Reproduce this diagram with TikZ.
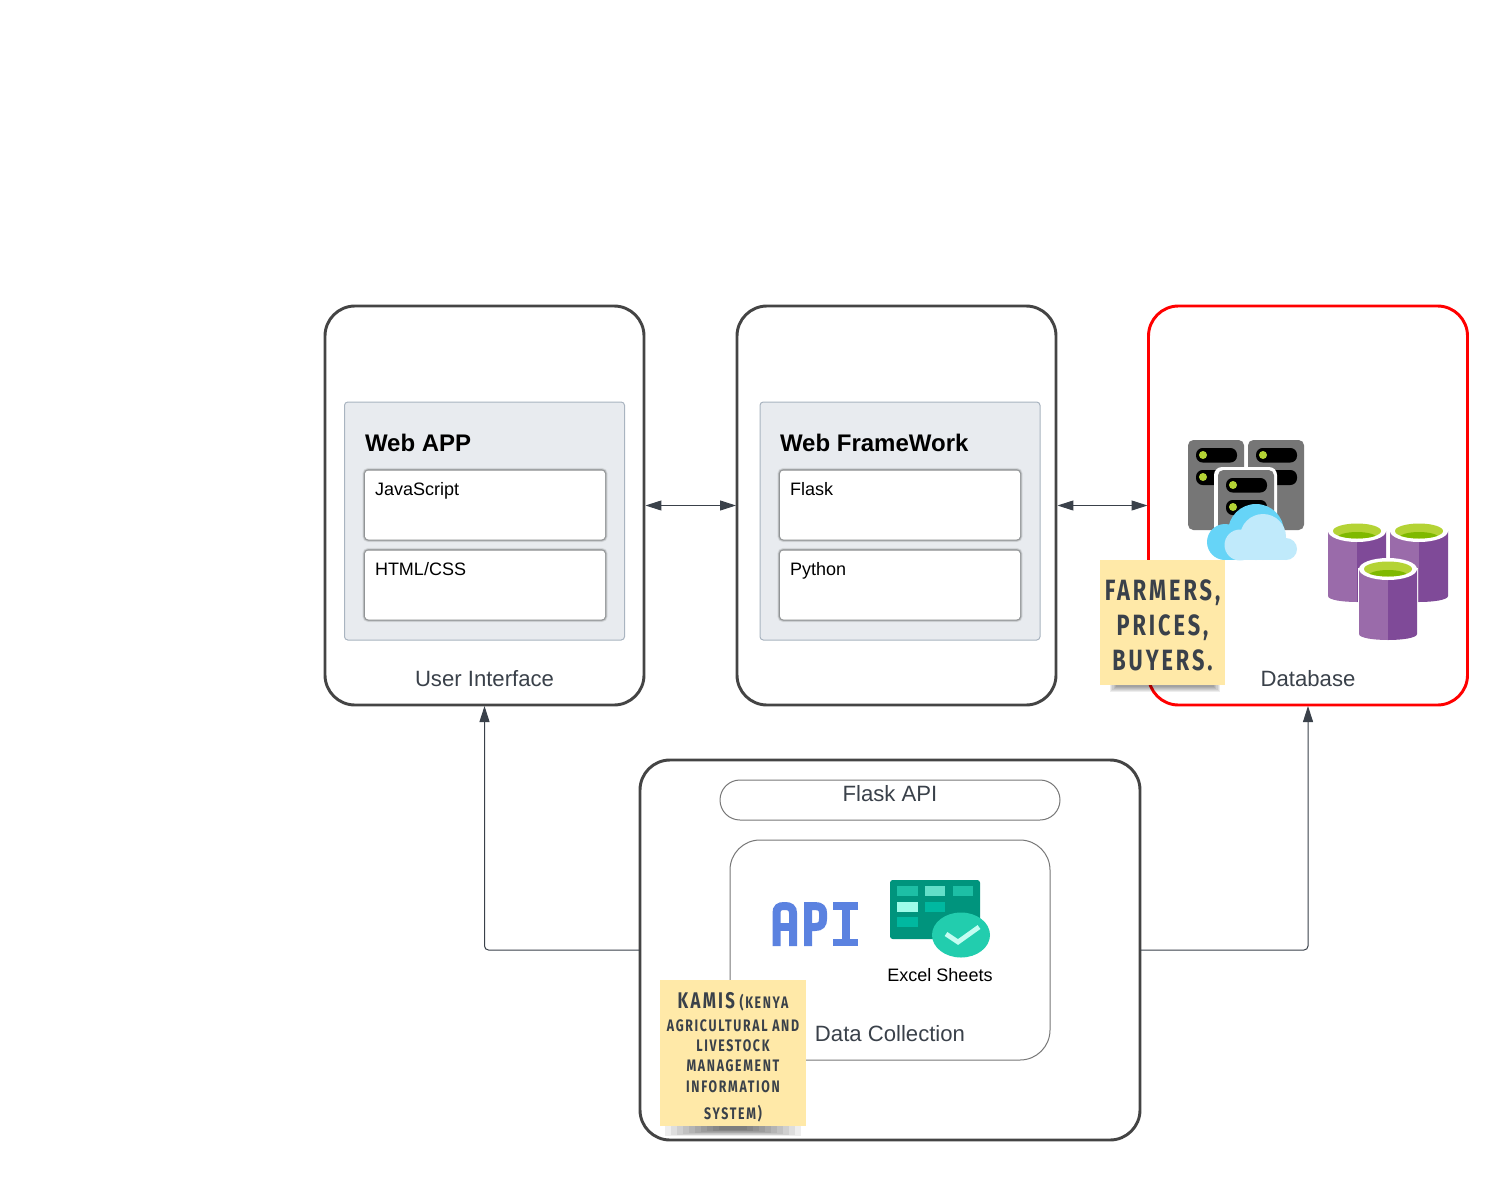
\documentclass[tikz,border=0pt]{standalone}
\usepackage{fontspec}
\setmainfont{Liberation Sans}
\newfontfamily\handfont[FakeStretch=0.74,LetterSpace=10]{Fira Sans}
\usetikzlibrary{arrows.meta}
\definecolor{ink}{HTML}{3A414A}
\definecolor{frame}{HTML}{444444}
\definecolor{thin}{HTML}{777777}
\definecolor{panelfill}{HTML}{E8EBEF}
\definecolor{panelline}{HTML}{A9B4C0}
\definecolor{sticky}{HTML}{FFE9A8}
\definecolor{srvgrey}{HTML}{767676}
\definecolor{led}{HTML}{B4D335}
\definecolor{cloudA}{HTML}{66D4F7}
\definecolor{cloudB}{HTML}{C0EAFB}
\definecolor{cylA}{HTML}{9A6BAA}
\definecolor{cylB}{HTML}{7F4A98}
\definecolor{well}{HTML}{7FB900}
\definecolor{xlA}{HTML}{00947D}
\definecolor{xlB}{HTML}{1DBFA5}
\definecolor{xlC}{HTML}{63DFC9}
\definecolor{xlD}{HTML}{9EFCE9}
\definecolor{xlE}{HTML}{00B8A0}
\definecolor{xlF}{HTML}{22CDAE}
\definecolor{apiblue}{HTML}{5B82E0}
\newcommand\pxl[1]{#1*0.75pt}
\newcommand\srvrack[3]{% x, y, height
  \fill[srvgrey,rounded corners=4pt] (#1,#2) rectangle ++(56,#3);
  \fill[black,rounded corners=5pt] (#1+8,#2+8) rectangle ++(41,14.5);
  \fill[black,rounded corners=5pt] (#1+8,#2+30) rectangle ++(41,15);
  \fill[led] (#1+15,#2+15) circle[radius=4];
  \fill[led] (#1+15,#2+37) circle[radius=4];
}
\newcommand\dbcyl[3]{% cx, top y, bottom y
  \fill[white] (#1-30,#2-1) rectangle (#1+30,#3-6);
  \fill[white] (#1-30,#3-6) .. controls (#1-30,#3) and (#1-14,#3+1) .. (#1,#3+1) .. controls (#1+14,#3+1) and (#1+30,#3) .. (#1+30,#3-6) -- cycle;
  \fill[cylA] (#1-29,#2) -- (#1-29,#3-6) .. controls (#1-29,#3-2) and (#1-14,#3) .. (#1,#3) -- (#1,#2) -- cycle;
  \fill[cylB] (#1+29,#2) -- (#1+29,#3-6) .. controls (#1+29,#3-2) and (#1+14,#3) .. (#1,#3) -- (#1,#2) -- cycle;
  \fill[white] (#1,#2) ellipse[x radius=29,y radius=11];
  \fill[led] (#1,#2) ellipse[x radius=24,y radius=7.5];
  \begin{scope}
    \clip (#1,#2) ellipse[x radius=24,y radius=7.5];
    \fill[well] (#1,#2+7) ellipse[x radius=20,y radius=6];
  \end{scope}
}
\tikzset{
  bigbox/.style={draw=frame,line width=2.2pt,fill=white,rounded corners=22.5pt,inner sep=0pt,outer sep=0pt,minimum width=\pxl{319},minimum height=\pxl{399}},
  subbox/.style={draw=thin,line width=0.75pt,fill=white,inner sep=0pt,outer sep=0pt},
  panelbox/.style={draw=panelline,line width=0.75pt,fill=panelfill,rounded corners=2.5pt,inner sep=0pt,outer sep=0pt,minimum width=\pxl{280},minimum height=\pxl{238}},
  cardbox/.style={fill=white,rounded corners=2.5pt,inner sep=0pt,outer sep=0pt,minimum height=\pxl{69},
    preaction={draw=black,opacity=.06,line width=4pt},
    preaction={draw=black,opacity=.10,line width=3pt},
    preaction={draw=black,opacity=.16,line width=2pt},
    preaction={draw=black,opacity=.16,line width=1pt}},
  cardtext/.style={anchor=base west,inner sep=0pt,outer sep=0pt,text=black,font=\fontsize{13.5}{16}\selectfont},
  paneltitle/.style={anchor=base west,inner sep=0pt,outer sep=0pt,text=black,font=\fontsize{18}{20}\selectfont\bfseries},
  boxlabel/.style={inner sep=0pt,outer sep=0pt,text=ink,font=\fontsize{16.6}{20}\selectfont},
  notebox/.style={fill=sticky,inner sep=0pt,outer sep=0pt},
  notetext/.style={inner sep=0pt,outer sep=0pt,text=ink,align=center},
  link/.style={draw=ink,line width=0.75pt,rounded corners=3pt,shorten >=0.75pt,arrows={-Triangle[length=12pt,width=7.5pt]}},
  duplex/.style={draw=ink,line width=0.75pt,shorten <=1.1pt,shorten >=0.75pt,arrows={Triangle[length=12pt,width=7.5pt]-Triangle[length=12pt,width=7.5pt]}},
}
\begin{document}
\begin{tikzpicture}[x=0.75pt,y=-0.75pt]
\useasboundingbox (0,0) rectangle (1509,1184);
\fill[white] (0,0) rectangle (1509,1184);

% main containers
\node[bigbox] (ui) at (484.5,505.5) {};
\node[bigbox] (wf) at (896.5,505.5) {};
\node[bigbox,draw=red] (db) at (1308,505.5) {};
\node[bigbox,minimum width=\pxl{500},minimum height=\pxl{380}] (coll) at (890,950) {};

% web app
\node[panelbox] (appPanel) at (484.5,521) {};
\node[paneltitle] (appTitle) at (365,451) {Web APP};
\node[cardbox,minimum width=\pxl{240}] (jsCard) at (485,505) {};
\node[cardbox,minimum width=\pxl{240}] (htmlCard) at (485,585) {};
\node[cardtext] (jsText) at (375,495) {JavaScript};
\node[cardtext] (htmlText) at (375,575) {HTML/CSS};
\node[boxlabel] (uiLabel) at (484.5,679) {User Interface};

% web framework
\node[panelbox] (fwPanel) at (900,521) {};
\node[paneltitle] (fwTitle) at (780,451) {Web FrameWork};
\node[cardbox,minimum width=\pxl{240}] (flaskCard) at (900,505) {};
\node[cardbox,minimum width=\pxl{240}] (pyCard) at (900,585) {};
\node[cardtext] (flaskText) at (790,495) {Flask};
\node[cardtext] (pyText) at (790,575) {Python};

% database label
\node[boxlabel] (dbLabel) at (1308,679) {Database};

% servers
\srvrack{1188}{440}{90}
\srvrack{1248}{440}{90}
\fill[white,rounded corners=6pt] (1214,467) rectangle (1277,540);
\srvrack{1218}{470}{70}
% cloud
\fill[cloudA] (1256,532) circle[radius=28];
\fill[cloudA] (1225,542) circle[radius=18];
\fill[cloudA] (1225,545) rectangle (1270,560);
\fill[cloudB] (1263,537) circle[radius=23];
\fill[cloudB] (1240,545) circle[radius=15.5];
\fill[cloudB] (1286,549) circle[radius=11];
\fill[cloudB] (1240,540) rectangle (1286,560);

% cylinders
\dbcyl{1357}{531}{602}
\dbcyl{1419}{531}{602}
\dbcyl{1388}{569}{640}

% collection internals
\node[subbox,rounded corners=15pt,minimum width=\pxl{340},minimum height=\pxl{40}] (pill) at (890,800) {};
\node[boxlabel,anchor=base] (pillText) at (890,801) {Flask API};
\node[subbox,rounded corners=22.5pt,minimum width=\pxl{320},minimum height=\pxl{220}] (dc) at (890,950) {};
\node[boxlabel] (dcLabel) at (890,1034) {Data Collection};

% API logo
\begin{scope}[apiblue]
  \draw[line width=6pt] (776.5,946) -- (776.5,913) .. controls (776.5,908) and (779,906) .. (784,906) -- (785,906) .. controls (790,906) and (793,908) .. (793,913) -- (793,946);
  \draw[line width=6pt] (776.5,927) -- (793,927);
  \draw[line width=6pt] (808,946) -- (808,906) -- (815,906) .. controls (821,906) and (823,909) .. (823,913) -- (823,919) .. controls (823,924) and (821,927) .. (815,927) -- (808,927);
  \fill (833,902) rectangle (858,909.5);
  \fill (833,938.5) rectangle (858,946);
  \fill (841.5,902) rectangle (849.5,946);
\end{scope}

% spreadsheet icon
\fill[xlA,rounded corners=2pt] (890,880) rectangle (980,939);
\fill[xlB] (897,886) rectangle (918,896);
\fill[xlC] (925,886) rectangle (945,896);
\fill[xlB] (953,886) rectangle (973,896);
\fill[xlD] (897,902) rectangle (918,912);
\fill[xlE] (925,902) rectangle (945,912);
\fill[xlE] (897,917) rectangle (918,927);
\fill[xlF] (961,935) ellipse[x radius=29,y radius=22.5];
\draw[xlD!60!white,line width=3.6pt] (946,934) -- (958,942) -- (979,927);
\node[cardtext,anchor=center] (xlText) at (940,975) {Excel Sheets};

% connectors
\draw[duplex] (ui.east) -- (wf.west);
\draw[duplex] (wf.east) -- (db.west);
\draw[link] (coll.west) -| (ui.south);
\draw[link] (coll.east) -| (db.south);

% sticky shadows
\foreach \w in {0,2,...,10}{
  \fill[black,opacity=.07] (1110+\w*0.6,683) rectangle (1220-\w*0.6,692-\w*0.5);
}
\foreach \w in {0,6,...,54}{
  \fill[black,opacity=.065] (665+\w,1122) rectangle (801-\w,1136-\w/9);
}

% sticky notes
\node[notebox,minimum width=\pxl{125},minimum height=\pxl{125}] (noteA) at (1162.5,622.5) {};
\node[notetext,font=\handfont\bfseries\fontsize{22}{26.25}\selectfont] (noteAText) at (1162.5,625)
  {FARMERS,\\PRICES,\\BUYERS.};
\node[notebox,minimum width=\pxl{146},minimum height=\pxl{146}] (noteB) at (733,1053) {};
\node[notetext,font=\handfont\bfseries\fontsize{12.5}{15.3}\selectfont] (noteBText) at (733,1057)
  {{\fontsize{17}{17}\selectfont KAMIS} (KENYA\\[2pt]AGRICULTURAL AND\\LIVESTOCK\\MANAGEMENT\\INFORMATION\\[5pt]SYSTEM)};
\end{tikzpicture}
\end{document}
